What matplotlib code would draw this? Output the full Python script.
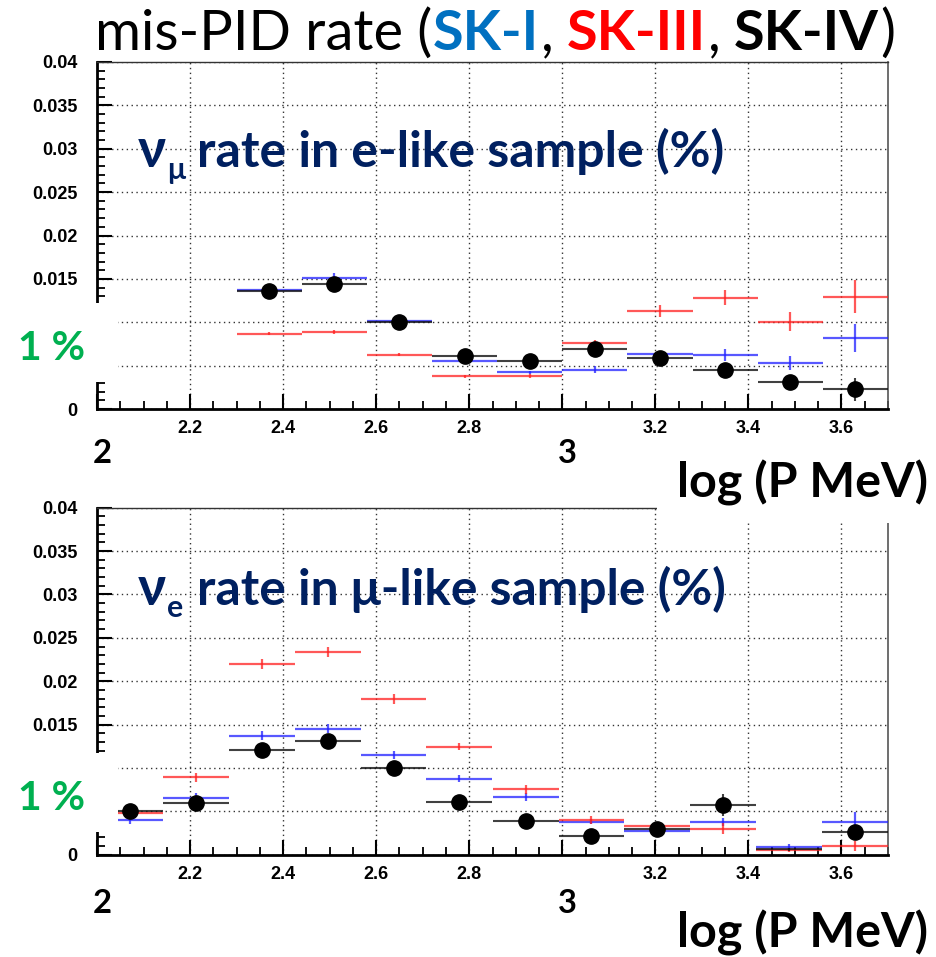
import matplotlib.pyplot as plt
from matplotlib.patches import Rectangle
from matplotlib.ticker import MultipleLocator

W, H, DPI = 937, 957, 100

# log10(P / MeV) bin edges
top_edges = [2.30, 2.44, 2.58, 2.72, 2.86, 3.00, 3.14, 3.28, 3.42, 3.56, 3.70]
bot_edges = [2.000, 2.142, 2.283, 2.425, 2.567, 2.708, 2.850, 2.992,
             3.133, 3.275, 3.417, 3.558, 3.700]

# numu rate in e-like sample
top_sk1 = [0.01372, 0.01514, 0.01010, 0.00550, 0.00423, 0.00453, 0.00637, 0.00626, 0.00527, 0.00815]
top_sk1_err = [0.0002, 0.0005, 0.0002, 0.0002, 0.0002, 0.0004, 0.0003, 0.0007, 0.0008, 0.0016]
top_sk3 = [0.00868, 0.00888, 0.00626, 0.00376, 0.00380, 0.00757, 0.01130, 0.01283, 0.01007, 0.01295]
top_sk3_err = [0.0002, 0.0002, 0.0002, 0.0002, 0.0002, 0.0004, 0.00065, 0.00086, 0.0011, 0.0019]
top_sk4 = [0.01360, 0.01437, 0.01007, 0.00615, 0.00553, 0.00692, 0.00592, 0.00450, 0.00311, 0.00227]
top_sk4_err = [0.0002, 0.0002, 0.0002, 0.0002, 0.0002, 0.0003, 0.0003, 0.0004, 0.0005, 0.0013]
top_sk4_dot = [True] * 10

# nue rate in mu-like sample
bot_sk1 = [0.00396, 0.00657, 0.01372, 0.01452, 0.01149, 0.00873, 0.00665, 0.00380,
           0.00270, 0.00377, 0.00092, 0.00377]
bot_sk1_err = [0.0004, 0.0005, 0.0005, 0.0005, 0.0005, 0.0004, 0.0005, 0.0003,
               0.0003, 0.0005, 0.0003, 0.0012]
bot_sk3 = [0.00477, 0.00892, 0.02195, 0.02337, 0.01795, 0.01245, 0.00754, 0.00400,
           0.00331, 0.00300, 0.00054, 0.00100]
bot_sk3_err = [0.0003, 0.0005, 0.0006, 0.0006, 0.0006, 0.0004, 0.0005, 0.0005,
               0.0002, 0.0006, 0.0002, 0.0006]
bot_sk4 = [0.00504, 0.00593, 0.01207, 0.01314, 0.01000, 0.00607, 0.00388, 0.00216,
           0.00293, 0.00573, 0.00062, 0.00258]
bot_sk4_err = [0.0003, 0.0003, 0.0003, 0.0003, 0.0003, 0.0003, 0.0003, 0.0003,
               0.0003, 0.0013, 0.0002, 0.0006]
bot_sk4_dot = [True] * 10 + [False, True]

x_ticks = [2.0, 2.2, 2.4, 2.6, 2.8, 3.0, 3.2, 3.4, 3.6]
x_labels = ["", "2.2", "2.4", "2.6", "2.8", "", "3.2", "3.4", "3.6"]
y_ticks = [0, 0.005, 0.01, 0.015, 0.02, 0.025, 0.03, 0.035, 0.04]
# 0.005 and 0.01 sit under the pasted "1 %" box on the slide
y_labels = ["0", "", "", "0.015", "0.02", "0.025", "0.03", "0.035", "0.04"]

C_SK1 = "#2020ff"
C_SK3 = "#ff2020"
C_SK4 = "#111111"
NAVY = "#002060"
GREEN = "#00b050"
FONT = ["Lato", "DejaVu Sans"]

fig = plt.figure(figsize=(W / DPI, H / DPI), dpi=DPI)
renderer = fig.canvas.get_renderer()


def fx(x):
    return x / W


def fy(y):
    return 1 - y / H


def centers(edges):
    return [(a + b) / 2 for a, b in zip(edges[:-1], edges[1:])]


def halfw(edges):
    return [(b - a) / 2 for a, b in zip(edges[:-1], edges[1:])]


def draw_panel(ax, edges, sk1, e1, sk3, e3, sk4, e4, dots):
    xc, xw = centers(edges), halfw(edges)
    ax.errorbar(xc, sk1, xerr=xw, yerr=e1, fmt="none", ecolor=C_SK1, elinewidth=1.6,
                alpha=0.75, capsize=0, zorder=3)
    ax.errorbar(xc, sk3, xerr=xw, yerr=e3, fmt="none", ecolor=C_SK3, elinewidth=1.6,
                alpha=0.75, capsize=0, zorder=3)
    ax.errorbar(xc, sk4, xerr=xw, yerr=e4, fmt="none", ecolor=C_SK4, elinewidth=1.5,
                alpha=0.8, capsize=0, zorder=4)
    ax.plot([x for x, d in zip(xc, dots) if d], [v for v, d in zip(sk4, dots) if d],
            "o", color="black", markersize=11, zorder=5)

    ax.set_xlim(2.0, 3.7)
    ax.set_ylim(0, 0.04)
    ax.set_xticks(x_ticks)
    ax.set_xticklabels(x_labels)
    ax.set_yticks(y_ticks)
    ax.set_yticklabels(y_labels)
    ax.xaxis.set_minor_locator(MultipleLocator(0.05))
    ax.yaxis.set_minor_locator(MultipleLocator(0.001))
    ax.tick_params(which="major", direction="in", length=11, width=1.5, labelsize=13)
    ax.tick_params(axis="x", which="major", pad=8)
    ax.tick_params(axis="y", which="major", pad=14)
    ax.tick_params(which="minor", direction="in", length=5.5, width=1.3)
    for lab in ax.get_xticklabels() + ax.get_yticklabels():
        lab.set_fontfamily("Liberation Sans")
        lab.set_fontweight("bold")
    ax.grid(True, which="major", linestyle=(0, (1, 2.5)), color="#333333", linewidth=1)
    ax.set_axisbelow(True)
    ax.spines["left"].set_linewidth(2)
    ax.spines["bottom"].set_linewidth(2)
    ax.spines["top"].set_linewidth(1)
    ax.spines["right"].set_linewidth(1.2)
    ax.spines["top"].set_color("#333333")
    ax.spines["right"].set_color("#555555")


ax1 = fig.add_axes([fx(97), fy(409), fx(888) - fx(97), fy(62) - fy(409)])
ax2 = fig.add_axes([fx(97), fy(854.7), fx(888) - fx(97), fy(507.7) - fy(854.7)])
draw_panel(ax1, top_edges, top_sk1, top_sk1_err, top_sk3, top_sk3_err,
           top_sk4, top_sk4_err, top_sk4_dot)
draw_panel(ax2, bot_edges, bot_sk1, bot_sk1_err, bot_sk3, bot_sk3_err,
           bot_sk4, bot_sk4_err, bot_sk4_dot)

# white boxes pasted over the plots, as on the slide
for x0, y0, x1, y1 in [(0, 303, 118, 382), (0, 753, 118, 832), (657, 452, 937, 523)]:
    fig.add_artist(Rectangle((fx(x0), fy(y1)), fx(x1) - fx(x0), fy(y0) - fy(y1),
                             transform=fig.transFigure, facecolor="white",
                             edgecolor="none", zorder=10))


def fit_text(x0, x1, y, s, size=30, **kw):
    """Place text at baseline y starting at x0 and scale it to end at x1."""
    t = fig.text(fx(x0), fy(y), s, fontsize=size, family=FONT, va="baseline",
                 ha="left", zorder=11, **kw)
    w = t.get_window_extent(renderer).width
    t.set_fontsize(size * (x1 - x0) / w)
    return t


# title with coloured detector names
parts = [("mis-PID rate (", "black", "normal", 0),
         ("SK-I", "#0070c0", "bold", 1),
         (",", "black", "normal", 2),
         ("SK-III", "#ff0000", "bold", 13),
         (",", "black", "normal", 2),
         ("SK-IV", "black", "bold", 13),
         (")", "black", "normal", 2)]


def layout_title(size):
    texts, x = [], 95
    for s, c, w, gap in parts:
        t = fig.text(fx(x + gap), fy(50), s, color=c, fontweight=w, fontsize=size,
                     family=FONT, va="baseline", ha="left", zorder=11)
        x = t.get_window_extent(renderer).x1
        texts.append(t)
    return texts, x


texts, end = layout_title(30)
gaps = sum(p[3] for p in parts)
scale = (895 - 95 - gaps) / (end - 95 - gaps)
for t in texts:
    t.remove()
layout_title(30 * scale)

# panel labels
for yb, sub, rest in [(167, "\u03bc", "rate in e-like sample (%)"),
                      (605, "e", "rate in \u03bc-like sample (%)")]:
    fit_text(138, 166, yb, "\u03bd", color=NAVY, fontweight="bold")
    fit_text(167, 185 if sub == "\u03bc" else 183, yb + 12, sub, size=18,
             color=NAVY, fontweight="bold")
    fit_text(197, 725, yb, rest, color=NAVY, fontweight="bold")

for yb in (360, 810):
    fit_text(18, 85, yb, "1 %", color=GREEN, fontweight="bold")

for yb in (463, 913):
    fit_text(93, 112, yb, "2", size=26, fontweight="bold")
    fit_text(558, 577, yb, "3", size=26, fontweight="bold")

for yb in (497, 947):
    fit_text(677, 928, yb, "log (P MeV)", fontweight="bold")

fig.savefig("out.png", dpi=DPI)
